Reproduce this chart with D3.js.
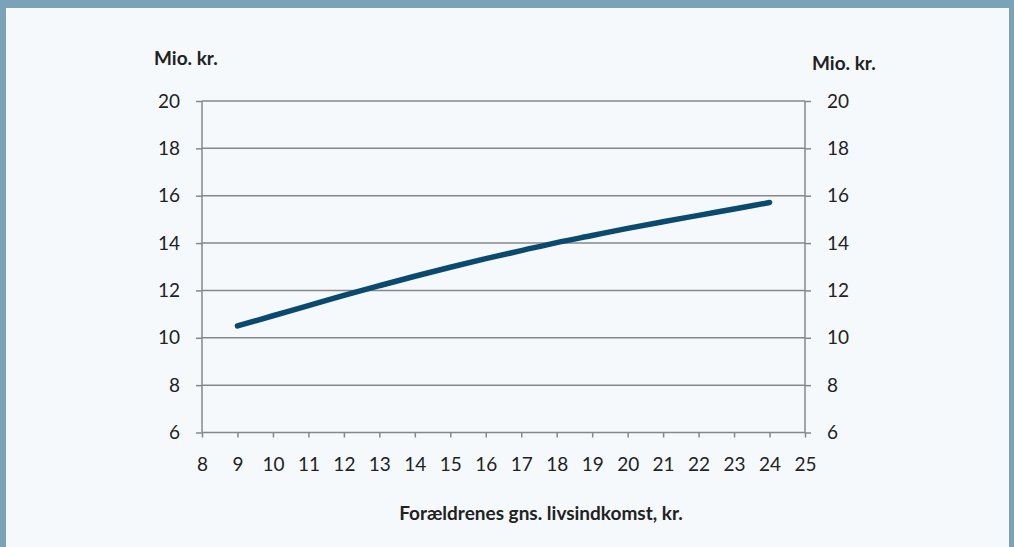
<!DOCTYPE html>
<html>
<head>
<meta charset="utf-8">
<script src="https://cdn.jsdelivr.net/npm/d3@7"></script>
<style>
  body { margin: 0; background: #f5f9fc; }
  svg { display: block; }
</style>
</head>
<body>
<svg width="1014" height="547"></svg>
<script>
// Data
const incomes = [9, 10, 11, 12, 13, 14, 15, 16, 17, 18, 19, 20, 21, 22, 23, 24];
const values = [10.50, 10.93, 11.36, 11.79, 12.20, 12.60, 12.98, 13.34, 13.68, 14.02, 14.32, 14.62, 14.90, 15.17, 15.44, 15.71];
const xTicks = [8, 9, 10, 11, 12, 13, 14, 15, 16, 17, 18, 19, 20, 21, 22, 23, 24, 25];
const yTicks = [6, 8, 10, 12, 14, 16, 18, 20];
const yLabel = "Mio. kr.";
const xLabel = "Forældrenes gns. livsindkomst, kr.";

const svg = d3.select('svg');
const font = "Lato, 'Open Sans', sans-serif";
const axisColor = '#878787';

// baggrund og ramme
svg.append('rect').attr('x', 0).attr('y', 0).attr('width', 1014).attr('height', 547).attr('fill', '#f5f9fc');
svg.append('rect').attr('x', 0).attr('y', 0).attr('width', 1014).attr('height', 8).attr('fill', '#7ba3b8');
svg.append('rect').attr('x', 0).attr('y', 0).attr('width', 6).attr('height', 547).attr('fill', '#7ba3b8');
svg.append('rect').attr('x', 1009).attr('y', 0).attr('width', 5).attr('height', 547).attr('fill', '#7ba3b8');

const plot = {left: 202, right: 805, top: 101, bottom: 432.5};

const x = d3.scaleLinear().domain([8, 25]).range([plot.left, plot.right]);
const y = d3.scaleLinear().domain([6, 20]).range([plot.bottom, plot.top]);

// gitterlinjer
svg.append('g')
	.selectAll('line')
	.data(yTicks.filter(d => d > 6))
	.enter()
	.append('line')
	.attr('x1', plot.left)
	.attr('x2', plot.right)
	.attr('y1', d => y(d))
	.attr('y2', d => y(d))
	.style('stroke', axisColor)
	.style('stroke-width', 1.5);

// venstre akse
const leftAxis = svg.append('g')
	.attr('transform', `translate(${plot.left},0)`)
	.call(d3.axisLeft(y).tickValues(yTicks).tickSize(6).tickPadding(16));

// højre akse
const rightAxis = svg.append('g')
	.attr('transform', `translate(${plot.right},0)`)
	.call(d3.axisRight(y).tickValues(yTicks).tickSize(6).tickPadding(16));

// x-akse
const bottomAxis = svg.append('g')
	.attr('transform', `translate(0,${plot.bottom})`)
	.call(d3.axisBottom(x).tickValues(xTicks).tickSize(5).tickPadding(20));

[leftAxis, rightAxis, bottomAxis].forEach(g => {
	g.select('.domain').style('stroke', axisColor).style('stroke-width', 1.5);
	g.selectAll('.tick line').style('stroke', axisColor).style('stroke-width', 1.5);
	g.selectAll('.tick text')
		.style('font-family', font)
		.style('font-size', '19px')
		.style('fill', '#222');
});
leftAxis.select('.domain').attr('d', `M0,${plot.bottom}V${plot.top}`);
rightAxis.select('.domain').attr('d', `M0,${plot.bottom}V${plot.top}`);
bottomAxis.select('.domain').attr('d', `M${plot.left},0H${plot.right}`);

// linjen
const line = d3.line()
	.x((d, i) => x(incomes[i]))
	.y(d => y(d))
	.curve(d3.curveMonotoneX);

svg.append('path')
	.datum(values)
	.attr('d', line)
	.style('fill', 'none')
	.style('stroke', '#0b4a6f')
	.style('stroke-width', 5.5)
	.style('stroke-linecap', 'round');

// aksetitler
svg.append('text')
	.attr('x', 154)
	.attr('y', 65)
	.style('font-family', font)
	.style('font-size', '19px')
	.style('font-weight', 'bold')
	.style('fill', '#222')
	.text(yLabel);

svg.append('text')
	.attr('x', 812)
	.attr('y', 70)
	.style('font-family', font)
	.style('font-size', '19px')
	.style('font-weight', 'bold')
	.style('fill', '#222')
	.text(yLabel);

svg.append('text')
	.attr('x', 541)
	.attr('y', 520)
	.attr('text-anchor', 'middle')
	.style('font-family', font)
	.style('font-size', '19px')
	.style('font-weight', 'bold')
	.style('fill', '#222')
	.text(xLabel);
</script>
</body>
</html>
